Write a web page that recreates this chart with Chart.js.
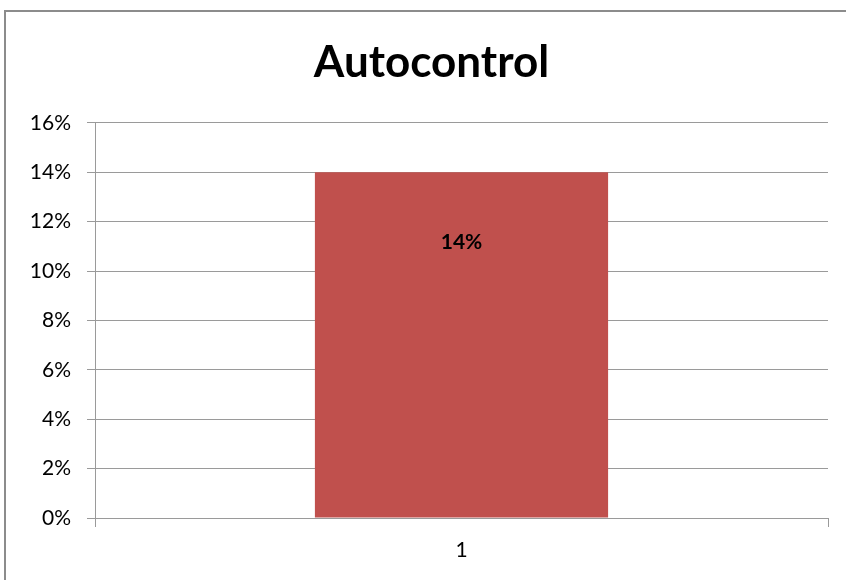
<!DOCTYPE html>
<html>
<head>
<meta charset="utf-8">
<script src="https://cdn.jsdelivr.net/npm/chart.js@4/dist/chart.umd.min.js"></script>
<style>
    html, body { margin: 0; background: #fff; overflow: hidden; }
    .linha-topo { position: absolute; left: 4px; top: 10px; width: 842px; height: 2px; background: #8c8c8c; }
    .linha-esq { position: absolute; left: 4px; top: 10px; width: 2px; height: 570px; background: #8c8c8c; }
    .wrap { position: absolute; left: 0; top: 0; width: 846px; height: 580px; }
</style>
</head>
<body>
<div class="linha-topo"></div>
<div class="linha-esq"></div>
<div class="wrap"><canvas id="chart" width="846" height="580"></canvas></div>
<script>
// datos //
const categorias = ["1"];
const valores = [14];
const yTicks = [0, 2, 4, 6, 8, 10, 12, 14, 16];

const fonte = "Lato, 'Open Sans', sans-serif";
const cinza = "#9a9a9a";

// etiqueta de dato dentro da barra //
const rotulo = {
    id: "rotulo",
    afterLayout(chart) {
        // centrar o titulo no quadro, nao so no grafico
        if (chart.titleBlock) chart.titleBlock.left = 35;
    },
    afterDatasetsDraw(chart) {
        const ctx = chart.ctx;
        const meta = chart.getDatasetMeta(0);
        meta.data.forEach((bar, i) => {
            ctx.save();
            ctx.font = "bold 21px " + fonte;
            ctx.fillStyle = "#000";
            ctx.textAlign = "center";
            ctx.textBaseline = "middle";
            ctx.fillText(valores[i] + "%", bar.x, bar.y + 70);
            ctx.restore();
        });
    }
};

const chart = document.querySelector("#chart").getContext("2d");

new Chart(chart, {
    type: "bar",
    data: {
        labels: categorias,
        datasets: [{
            data: valores,
            backgroundColor: "#c0504d",
            borderWidth: 0,
            barPercentage: 0.4,
            categoryPercentage: 1
        }]
    },
    options: {
        responsive: false,
        animation: false,
        layout: { padding: { left: 0, right: 18, top: 0, bottom: 0 } },
        plugins: {
            legend: { display: false },
            tooltip: { enabled: false },
            title: {
                display: true,
                text: "Autocontrol",
                color: "#000",
                font: { family: fonte, size: 44, weight: "bold" },
                padding: { top: 36, bottom: 34 }
            }
        },
        scales: {
            x: {
                offset: true,
                grid: {
                    offset: true,
                    drawOnChartArea: false,
                    drawTicks: true,
                    tickLength: 9,
                    color: cinza
                },
                border: { color: cinza, width: 1 },
                ticks: {
                    color: "#000",
                    font: { family: fonte, size: 21 },
                    padding: 11
                },
                afterFit(scale) { scale.height = 62; }
            },
            y: {
                min: 0,
                max: 16,
                afterBuildTicks(scale) {
                    scale.ticks = yTicks.map(v => ({ value: v }));
                },
                grid: { color: cinza, tickLength: 8 },
                border: { color: cinza, width: 1 },
                ticks: {
                    color: "#000",
                    font: { family: fonte, size: 21 },
                    padding: 16,
                    callback: v => v + "%"
                },
                afterFit(scale) { scale.width = 95; }
            }
        }
    },
    plugins: [rotulo]
});
</script>
</body>
</html>
